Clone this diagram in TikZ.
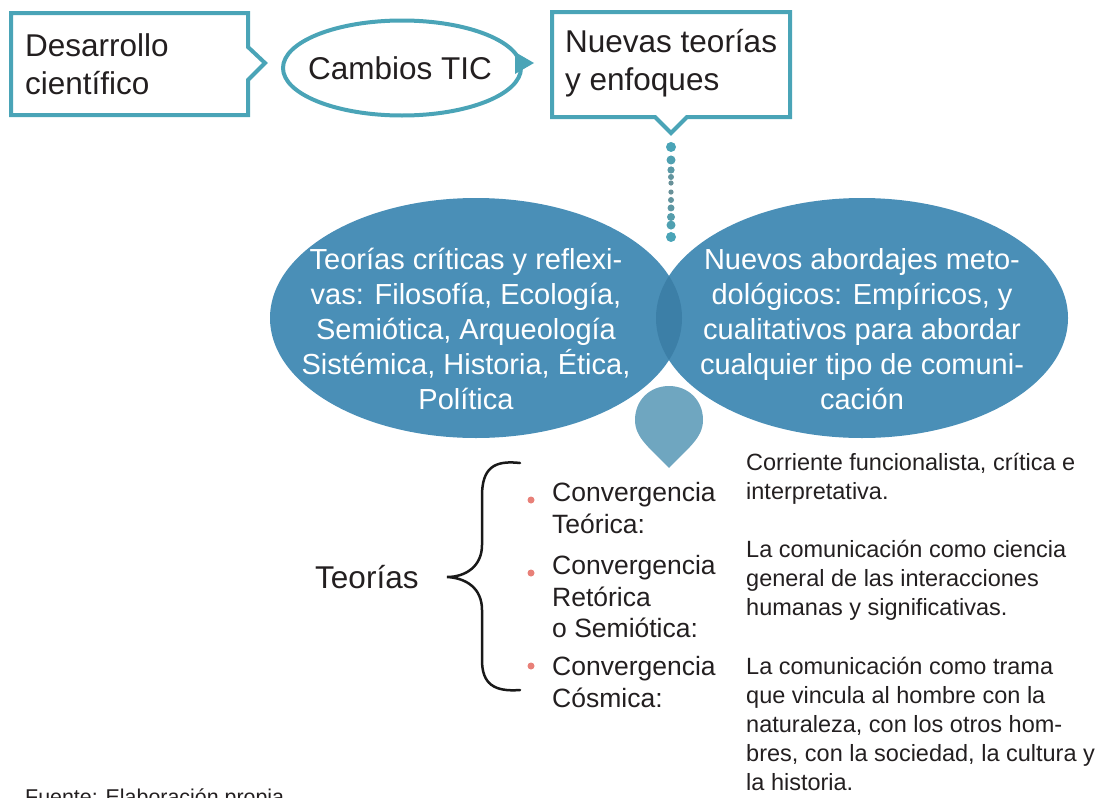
\documentclass[tikz,border=0pt]{standalone}
\usepackage{fontspec}
\setmainfont{Liberation Sans}
\usepackage{tikz}
\usetikzlibrary{shapes.geometric, calc}

\definecolor{tealline}{RGB}{74,164,183}
\definecolor{ovalblue}{RGB}{74,143,183}
\definecolor{ovaldark}{RGB}{60,127,167}
\definecolor{dropblue}{RGB}{111,166,192}
\definecolor{bulletred}{RGB}{232,128,120}
\definecolor{textgray}{RGB}{35,31,32}

\begin{document}
\begin{tikzpicture}[x=1pt, y=-1pt,
        frame/.style={draw=tealline, line width=4pt, fill=white, line join=miter},
        bigtext/.style={font=\fontsize{31.5}{37.5}\selectfont, text=textgray, inner sep=0pt, align=left},
        ovaltext/.style={font=\fontsize{29}{35}\selectfont, text=white, inner sep=0pt, align=center},
        convtext/.style={font=\fontsize{26.5}{31.5}\selectfont, text=textgray, inner sep=0pt, align=left, anchor=west},
        smalltext/.style={font=\fontsize{23.5}{28.8}\selectfont, text=textgray, inner sep=0pt, align=left, anchor=west},
        bullet/.style={fill=bulletred, draw=none}]
                \useasboundingbox (0,0) rectangle (1106,798);

                \draw[frame] (11,13) -- (248,13) -- (248,47) -- (265,63) -- (248,80) -- (248,115) -- (11,115) -- cycle;
                \node[bigtext, anchor=west] (desarrollo) at (25,64) {Desarrollo\\científico};

                \node[frame, ellipse, minimum width=238pt, minimum height=95pt, inner sep=0pt] (cambios) at (402,68) {};
                \node[bigtext] (cambiostxt) at (400,68) {Cambios TIC};
                \fill[tealline] (515,52) -- (534,63) -- (515,74) -- cycle;

                \draw[frame] (552,12) -- (790,12) -- (790,117) -- (687,117) -- (671,133) -- (655,117) -- (552,117) -- cycle;
                \node[bigtext, anchor=west] (nuevas) at (565,63) {Nuevas teorías\\y enfoques};

                \coordinate (punta) at (671,133);
                \coordinate (cruce) at (671,270);
                \foreach \t/\r/\c in {0.102/5/100, 0.197/4.5/90, 0.27/3.6/70, 0.321/3/55, 0.365/2.6/45,
                                      0.431/2.6/45, 0.489/3/55, 0.547/3.5/65, 0.613/4/80, 0.672/4.5/90, 0.759/5/100}
                        \fill[tealline!\c!gray] ($(punta)!\t!(cruce)$) circle (\r);

                \fill[ovalblue] (476,318) ellipse (206 and 120);
                \fill[ovalblue] (862,318) ellipse (206 and 120);
                \begin{scope}
                        \clip (476,318) ellipse (206 and 120);
                        \fill[ovaldark] (862,318) ellipse (206 and 120);
                \end{scope}
                \node[ovaltext] (criticas) at (466,329) {Teorías críticas y reflexi-\\vas: Filosofía, Ecología,\\Semiótica, Arqueología\\Sistémica, Historia, Ética,\\Política};
                \node[ovaltext] (abordajes) at (862,329) {Nuevos abordajes meto-\\dológicos: Empíricos, y\\cualitativos para abordar\\cualquier tipo de comuni-\\cación};

                \fill[dropblue] (669,468) .. controls (650,448) and (635,438) .. (635,420)
                        .. controls (635,400) and (650,386) .. (669,386)
                        .. controls (688,386) and (703,400) .. (703,420)
                        .. controls (703,438) and (688,448) .. (669,468) -- cycle;

                \node[bigtext, anchor=west] (teorias) at (315,577) {Teorías};
                \draw[color=black!90, line width=2.5pt, line cap=round]
                        (520,463) .. controls (494,460) and (482,468) .. (482,496) -- (482,545)
                        .. controls (482,566) and (466,577) .. (447,577)
                        .. controls (466,578) and (482,588) .. (482,610) -- (482,660)
                        .. controls (482,684) and (494,692) .. (520,690);

                \fill[bullet] (531,500) circle (3.5);
                \fill[bullet] (531,573) circle (3.5);
                \fill[bullet] (531,666) circle (3.5);

                \node[convtext] (teorica) at (552,508) {Convergencia\\Teórica:};
                \node[convtext] (retorica) at (552,597) {Convergencia\\Retórica\\o Semiótica:};
                \node[convtext] (cosmica) at (552,682) {Convergencia\\Cósmica:};

                \node[smalltext] (funcionalista) at (746,479) {Corriente funcionalista, crítica e\\interpretativa.};
                \node[smalltext] (ciencia) at (746,580) {La comunicación como ciencia\\general de las interacciones\\humanas y significativas.};
                \node[smalltext] (trama) at (746,724) {La comunicación como trama\\que vincula al hombre con la\\naturaleza, con los otros hom-\\bres, con la sociedad, la cultura y\\la historia.};

                \node[font=\fontsize{21.4}{25}\selectfont, text=textgray, inner sep=0pt, anchor=base west] (fuente) at (25,804) {Fuente: Elaboración propia};
\end{tikzpicture}
\end{document}
